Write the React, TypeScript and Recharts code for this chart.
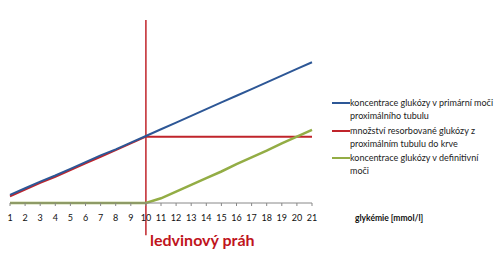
import React from 'react';
import { LineChart, Line, XAxis, YAxis, ReferenceLine } from 'recharts';

const glykemie = [1, 2, 3, 4, 5, 6, 7, 8, 9, 10, 11, 12, 13, 14, 15, 16, 17, 18, 19, 20, 21];
const primarniMoc = [1.2, 2.2, 3.2, 4.1, 5.1, 6.1, 7.1, 8.0, 9.0, 10.0, 11.0, 12.0, 13.0, 14.0, 15.0, 16.0, 17.0, 18.0, 19.0, 20.0, 21.0];
const resorbovana = [1.0, 2.0, 3.0, 3.9, 4.9, 5.9, 6.9, 7.9, 8.9, 9.9, 9.9, 9.9, 9.9, 9.9, 9.9, 9.9, 9.9, 9.9, 9.9, 9.9, 9.9];
const definitivniMoc = [0, 0, 0, 0, 0, 0, 0, 0, 0, 0, 0.7, 1.7, 2.7, 3.7, 4.7, 5.8, 6.8, 7.8, 8.9, 9.9, 10.9];
const prah = 10;

const seriesInfo = [
  { key: 'primarni', color: '#2d5796', lines: ['koncentrace glukózy v primární moči', 'proximálního tubulu'] },
  { key: 'resorb', color: '#c0242b', lines: ['množství resorbované glukózy z', 'proximálním tubulu do krve'] },
  { key: 'definitivni', color: '#93ad45', lines: ['koncentrace glukózy v definitivní', 'moči'] },
];

const data = glykemie.map((g, i) => ({
  g,
  primarni: primarniMoc[i],
  resorb: resorbovana[i],
  definitivni: definitivniMoc[i],
}));

const font = 'Lato, "Liberation Sans", sans-serif';

export default function App() {
  return (
    <div style={{ position: 'absolute', left: 0, top: 0, width: 500, height: 263, background: '#fff', fontFamily: font }}>
      <LineChart width={500} height={263} data={data} margin={{ top: 20, right: 188, left: 10, bottom: 30 }}>
        <XAxis
          dataKey="g"
          type="number"
          domain={[1, 21]}
          ticks={glykemie}
          interval={0}
          height={30}
          tickSize={3}
          tickMargin={9}
          stroke="#888"
          tick={{ fill: '#111', fontSize: 9, fontFamily: font }}
        />
        <YAxis hide domain={[0, 27.3]} />
        <ReferenceLine
          segment={[{ x: prah, y: -4.8 }, { x: prah, y: 27.3 }]}
          stroke="#c0242b"
          strokeWidth={1.5}
          ifOverflow="visible"
        />
        <Line dataKey="resorb" stroke="#c0242b" strokeWidth={2} dot={false} isAnimationActive={false} type="linear" />
        <Line dataKey="primarni" stroke="#2d5796" strokeWidth={2} dot={false} isAnimationActive={false} type="linear" />
        <Line dataKey="definitivni" stroke="#93ad45" strokeWidth={2.5} dot={false} isAnimationActive={false} type="linear" />
      </LineChart>

      <div style={{ position: 'absolute', left: 150, top: 230, color: '#c0141c', fontWeight: 700, fontSize: 16, whiteSpace: 'nowrap' }}>
        ledvinový práh
      </div>
      <div style={{ position: 'absolute', left: 355, top: 213, color: '#111', fontWeight: 700, fontSize: 8.5, whiteSpace: 'nowrap' }}>
        glykémie  [mmol/l]
      </div>

      {seriesInfo.map((s, i) => (
        <div key={s.key} style={{ position: 'absolute', left: 332, top: 97 + i * 27.5, display: 'flex', alignItems: 'flex-start' }}>
          <div style={{ width: 18, height: 2, background: s.color, marginTop: 5 }} />
          <div style={{ fontSize: 9, lineHeight: '13px', color: '#222', marginTop: -1, whiteSpace: 'nowrap' }}>
            {s.lines.map((l) => (
              <div key={l}>{l}</div>
            ))}
          </div>
        </div>
      ))}
    </div>
  );
}
